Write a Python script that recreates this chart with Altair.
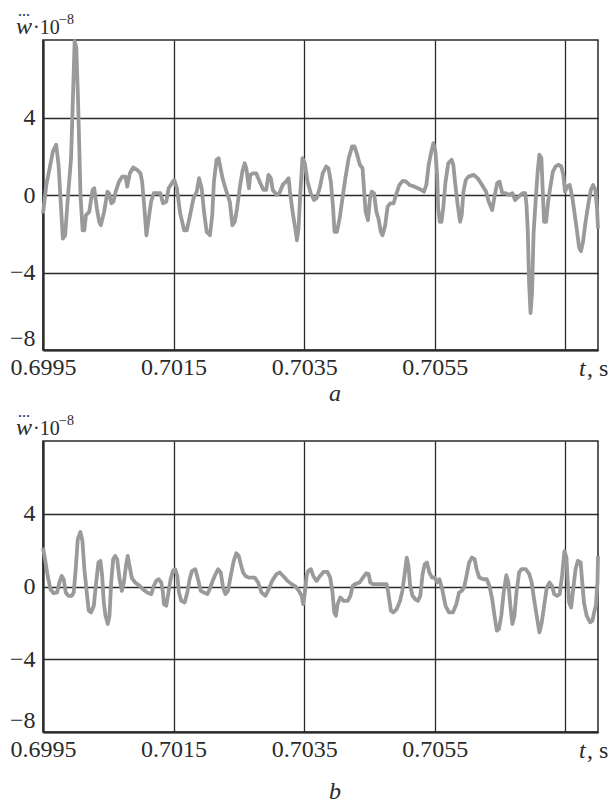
import altair as alt
import pandas as pd

# ---- data ----
top_t = [0.699500, 0.699551, 0.699601, 0.699652, 0.699702, 0.699738, 0.699768, 0.699804, 0.699839, 0.699880,
         0.699930, 0.699958, 0.699985, 0.700010, 0.700036, 0.700059, 0.700074, 0.700107, 0.700133, 0.700158,
         0.700208, 0.700259, 0.700284, 0.700325, 0.700360, 0.700386, 0.700436, 0.700487, 0.700512, 0.700547,
         0.700578, 0.700613, 0.700664, 0.700714, 0.700765, 0.700790, 0.700831, 0.700881, 0.700942, 0.700993,
         0.701018, 0.701053, 0.701084, 0.701119, 0.701155, 0.701196, 0.701246, 0.701297, 0.701338, 0.701388,
         0.701424, 0.701474, 0.701510, 0.701551, 0.701601, 0.701662, 0.701702, 0.701753, 0.701804, 0.701854,
         0.701890, 0.701930, 0.701966, 0.702006, 0.702057, 0.702092, 0.702118, 0.702158, 0.702189, 0.702209,
         0.702249, 0.702310, 0.702361, 0.702401, 0.702437, 0.702472, 0.702513, 0.702553, 0.702589, 0.702614,
         0.702654, 0.702675, 0.702715, 0.702766, 0.702817, 0.702877, 0.702918, 0.702953, 0.702989, 0.703019,
         0.703080, 0.703120, 0.703171, 0.703221, 0.703262, 0.703282, 0.703323, 0.703363, 0.703389, 0.703414,
         0.703439, 0.703474, 0.703510, 0.703551, 0.703601, 0.703652, 0.703691, 0.703743, 0.703784, 0.703836,
         0.703872, 0.703908, 0.703940, 0.703965, 0.704001, 0.704043, 0.704079, 0.704131, 0.704182, 0.704234,
         0.704270, 0.704311, 0.704353, 0.704394, 0.704415, 0.704441, 0.704477, 0.704508, 0.704534, 0.704570,
         0.704606, 0.704637, 0.704674, 0.704700, 0.704741, 0.704777, 0.704818, 0.704870, 0.704906, 0.704957,
         0.705009, 0.705061, 0.705113, 0.705190, 0.705267, 0.705335, 0.705371, 0.705407, 0.705448, 0.705479,
         0.705510, 0.705536, 0.705552, 0.705578, 0.705603, 0.705629, 0.705665, 0.705707, 0.705758, 0.705784,
         0.705810, 0.705851, 0.705888, 0.705913, 0.705939, 0.705976, 0.706017, 0.706094, 0.706157, 0.706224,
         0.706286, 0.706327, 0.706379, 0.706420, 0.706456, 0.706493, 0.706534, 0.706586, 0.706638, 0.706689,
         0.706730, 0.706782, 0.706844, 0.706886, 0.706905, 0.706925, 0.706944, 0.706967, 0.706990, 0.707013,
         0.707045, 0.707076, 0.707102, 0.707133, 0.707154, 0.707174, 0.707205, 0.707236, 0.707267, 0.707309,
         0.707350, 0.707391, 0.707438, 0.707469, 0.707495, 0.707526, 0.707567, 0.707609, 0.707645, 0.707680,
         0.707710, 0.707740, 0.707770, 0.707810, 0.707850, 0.707890, 0.707925, 0.707960, 0.707985, 0.708000]
top_v = [-0.95, 0.52, 1.38, 2.25, 2.6, 1.56, -0.17, -2.25, -2.08, -0.17,
         1.9, 5.0, 7.95, 7.6, 5.0, 2.0, 0.0, -1.82, -1.82, -1.04,
         -0.87, 0.26, 0.35, -0.69, -1.38, -1.56, -0.87, 0.17, 0.09, -0.43,
         -0.35, 0.17, 0.69, 0.95, 0.95, 0.43, 1.12, 1.42, 1.3, 1.12,
         0.69, -0.69, -2.08, -1.21, -0.35, 0.09, 0.09, 0.09, -0.43, -0.35,
         0.35, 0.61, 0.78, 0.35, -0.95, -1.82, -1.82, -1.04, -0.17, 0.17,
         0.87, 0.35, -0.87, -1.9, -2.08, -1.04, 0.69, 1.82, 1.9, 1.56,
         0.87, 0.17, -0.35, -1.56, -1.38, -0.69, 0.35, 1.21, 1.64, 1.38,
         0.35, 1.04, 1.12, 1.12, 0.69, 0.26, 0.26, 1.04, 0.87, 0.26,
         0.0, 0.09, 0.52, 0.69, 0.87, 0.17, -0.87, -1.73, -2.34, -1.73,
         0.0, 1.9, 1.64, 0.69, 0.09, -0.26, -0.17, 0.43, 1.12, 1.47,
         1.38, 0.69, -0.52, -1.9, -1.9, -1.21, -0.35, 0.87, 1.9, 2.51,
         2.51, 2.08, 1.56, 1.38, 0.35, -0.87, -1.3, -0.17, 0.17, 0.09,
         -0.87, -1.21, -1.9, -2.08, -1.56, -0.61, -0.43, -0.43, 0.0, 0.52,
         0.73, 0.69, 0.52, 0.43, 0.31, 0.17, 0.52, 1.56, 2.25, 2.68,
         2.25, 1.04, -0.69, -1.38, -1.38, -0.69, 0.69, 1.64, 1.82, 1.56,
         0.69, -0.52, -1.38, -1.04, 0.17, 0.78, 0.95, 1.04, 0.87, 0.52,
         0.17, -0.35, -0.78, 0.0, 0.61, 0.69, 0.09, 0.09, 0.0, 0.09,
         -0.26, -0.09, 0.09, 0.09, -0.52, -1.9, -4.5, -6.1, -5.0, -2.0,
         -0.3, 1.21, 2.08, 1.9, 0.17, -1.38, -1.38, -0.35, 0.35, 1.21,
         1.47, 1.56, 1.47, 1.04, 0.17, 0.43, 0.52, -0.17, -1.04, -1.9,
         -2.7, -2.9, -2.42, -1.38, -0.52, 0.26, 0.52, 0.26, -0.69, -1.73]

bot_t = [0.699500, 0.699531, 0.699572, 0.699613, 0.699664, 0.699715, 0.699751, 0.699786, 0.699817, 0.699848,
         0.699889, 0.699940, 0.699971, 0.700001, 0.700032, 0.700073, 0.700104, 0.700134, 0.700170, 0.700201,
         0.700237, 0.700278, 0.700314, 0.700349, 0.700380, 0.700406, 0.700431, 0.700457, 0.700493, 0.700518,
         0.700544, 0.700575, 0.700605, 0.700636, 0.700672, 0.700707, 0.700738, 0.700774, 0.700799, 0.700825,
         0.700861, 0.700912, 0.700979, 0.701030, 0.701096, 0.701158, 0.701198, 0.701234, 0.701270, 0.701311,
         0.701337, 0.701352, 0.701388, 0.701413, 0.701454, 0.701490, 0.701526, 0.701557, 0.701582, 0.701618,
         0.701669, 0.701710, 0.701746, 0.701782, 0.701833, 0.701874, 0.701915, 0.701966, 0.702017, 0.702053,
         0.702089, 0.702130, 0.702181, 0.702222, 0.702258, 0.702294, 0.702334, 0.702375, 0.702421, 0.702462,
         0.702498, 0.702529, 0.702565, 0.702601, 0.702652, 0.702703, 0.702743, 0.702795, 0.702846, 0.702907,
         0.702958, 0.703009, 0.703076, 0.703127, 0.703178, 0.703245, 0.703306, 0.703368, 0.703419, 0.703460,
         0.703485, 0.703511, 0.703537, 0.703562, 0.703603, 0.703639, 0.703690, 0.703743, 0.703795, 0.703857,
         0.703898, 0.703934, 0.703960, 0.703986, 0.704012, 0.704053, 0.704105, 0.704167, 0.704208, 0.704244,
         0.704280, 0.704348, 0.704400, 0.704452, 0.704487, 0.704513, 0.704555, 0.704633, 0.704710, 0.704762,
         0.704787, 0.704829, 0.704865, 0.704917, 0.704968, 0.705004, 0.705035, 0.705071, 0.705097, 0.705123,
         0.705159, 0.705200, 0.705242, 0.705278, 0.705314, 0.705345, 0.705381, 0.705417, 0.705459, 0.705500,
         0.705536, 0.705572, 0.705614, 0.705665, 0.705717, 0.705779, 0.705831, 0.705872, 0.705913, 0.705950,
         0.705986, 0.706027, 0.706069, 0.706110, 0.706141, 0.706182, 0.706244, 0.706296, 0.706337, 0.706379,
         0.706415, 0.706451, 0.706482, 0.706519, 0.706555, 0.706596, 0.706627, 0.706658, 0.706689, 0.706720,
         0.706751, 0.706792, 0.706829, 0.706896, 0.706948, 0.706984, 0.707020, 0.707061, 0.707103, 0.707139,
         0.707175, 0.707216, 0.707258, 0.707294, 0.707330, 0.707372, 0.707413, 0.707449, 0.707486, 0.707517,
         0.707537, 0.707558, 0.707589, 0.707620, 0.707656, 0.707692, 0.707734, 0.707759, 0.707785, 0.707827,
         0.707879, 0.707915, 0.707941, 0.707967, 0.707992, 0.708000]
bot_v = [2.14, 1.5, 0.58, -0.15, -0.37, -0.33, 0.22, 0.58, 0.4, -0.33,
         -0.51, -0.51, -0.33, 0.95, 2.59, 3.0, 2.5, 0.95, -0.33, -1.33,
         -1.42, -1.06, 0.22, 1.32, 1.41, 0.58, -0.88, -1.61, -2.06, -1.61,
         0.22, 1.5, 1.68, 1.5, 0.4, -0.24, 0.22, 1.22, 1.68, 1.13,
         0.46, 0.22, 0.04, -0.15, -0.33, -0.42, 0.04, 0.31, 0.4, 0.22,
         -0.33, -0.97, -1.06, -0.51, 0.4, 0.86, 0.95, 0.58, -0.33, -0.79,
         -0.88, -0.33, 0.4, 0.86, 0.95, 0.4, -0.24, -0.33, -0.42, -0.15,
         0.22, 0.58, 0.95, 0.77, -0.05, -0.42, -0.24, 0.58, 1.41, 1.83,
         1.68, 1.22, 0.77, 0.58, 0.49, 0.49, 0.49, 0.22, -0.33, -0.51,
         -0.15, 0.31, 0.68, 0.77, 0.58, 0.31, 0.13, 0.0, -0.24, -0.51,
         -0.97, -0.33, 0.58, 0.86, 0.95, 0.58, 0.31, 0.58, 0.8, 0.8,
         0.49, -0.33, -1.42, -1.61, -0.97, -0.6, -0.79, -0.79, -0.51, 0.04,
         0.13, 0.22, 0.49, 0.73, 0.68, 0.22, 0.13, 0.13, 0.13, 0.13,
         -0.33, -1.33, -1.42, -1.24, -0.79, -0.24, 0.58, 1.59, 1.13, 0.04,
         -0.51, -0.69, -0.79, -0.51, 0.68, 1.22, 1.32, 0.77, 0.49, 0.49,
         0.22, 0.4, -0.15, -1.06, -1.42, -1.42, -0.97, -0.33, -0.24, -0.05,
         0.58, 1.32, 1.59, 1.5, 0.95, 0.49, 0.4, 0.4, 0.04, -0.69,
         -1.61, -2.43, -2.34, -1.61, -0.33, 0.62, 0.22, -1.06, -2.06, -1.61,
         -0.33, 0.77, 0.95, 0.95, 0.68, 0.22, -0.69, -1.61, -2.52, -1.97,
         -1.06, -0.05, 0.22, 0.04, -0.42, -0.51, -0.42, 0.58, 1.95, 1.59,
         0.22, -0.88, -1.15, -0.15, 0.95, 1.41, 1.32, 0.22, -0.88, -1.61,
         -1.97, -1.88, -1.42, -1.06, 0.22, 1.68]

x_ticks = [0.6995, 0.7015, 0.7035, 0.7055, 0.7075]
y_ticks = [-8, -4, 0, 4]
x_domain = [0.6995, 0.708]
y_domain = [-8, 8]
panel_labels = ["a", "b"]

SERIF = "Liberation Serif"
INK = "#2a2a2a"
LINE = "#9a9a9c"


def one(text):
    return pd.DataFrame({"txt": [text]})


def txt(text, x, y, size=24, style="normal", align="left", baseline="alphabetic"):
    return alt.Chart(one(text)).mark_text(
        font=SERIF, fontSize=size, fontStyle=style, color=INK,
        align=align, baseline=baseline,
    ).encode(text="txt:N", x=alt.value(x), y=alt.value(y))


def panel(ts, vs, label, h, label_y):
    df = pd.DataFrame({"t": ts, "v": vs})
    xaxis = alt.Axis(
        values=x_ticks, labelExpr="datum.value > 0.707 ? '' : format(datum.value, '.4f')",
        grid=True, gridColor=INK, gridWidth=1.3, ticks=False,
        domain=True, domainColor=INK, domainWidth=2.2,
        labelFont=SERIF, labelFontSize=24, labelColor=INK, labelPadding=5,
        labelOverlap=False, labelFlush=False, title=None,
    )
    yaxis = alt.Axis(
        values=y_ticks, format="d", grid=True, gridColor=INK, gridWidth=1.3, ticks=False,
        domain=True, domainColor=INK, domainWidth=2.2,
        labelFont=SERIF, labelFontSize=24, labelColor=INK, labelPadding=8,
        labelFlush=True, title=None,
    )
    line = alt.Chart(df).mark_line(color=LINE, strokeWidth=3.8, strokeJoin="round").encode(
        x=alt.X("t:Q", scale=alt.Scale(domain=x_domain, nice=False, zero=False), axis=xaxis),
        y=alt.Y("v:Q", scale=alt.Scale(domain=y_domain, nice=False), axis=yaxis),
    )
    layers = [
        line,
        txt("w", -27, -6, size=24, style="italic"),
        txt("...", -25, -24, size=16),
        txt("·10", -10, -6, size=20),
        txt("−8", 16, -16, size=14),
        txt("t", 536, h + 26, size=24, style="italic"),
        txt(", s", 544, h + 26, size=24),
        txt(label, 292, label_y, size=24, style="italic", align="center"),
    ]
    return alt.layer(*layers).properties(width=555, height=h)


top = panel(top_t, top_v, panel_labels[0], 310, 361)
bottom = panel(bot_t, bot_v, panel_labels[1], 291, 358)

chart = alt.vconcat(top, bottom, spacing=91, bounds="flush").properties(
    padding={"left": 8, "top": 2, "right": 0, "bottom": 0},
    background="white",
).configure_view(stroke=INK, strokeWidth=1.5)

chart.save("out.html", embed_options={"renderer": "svg", "actions": False})
